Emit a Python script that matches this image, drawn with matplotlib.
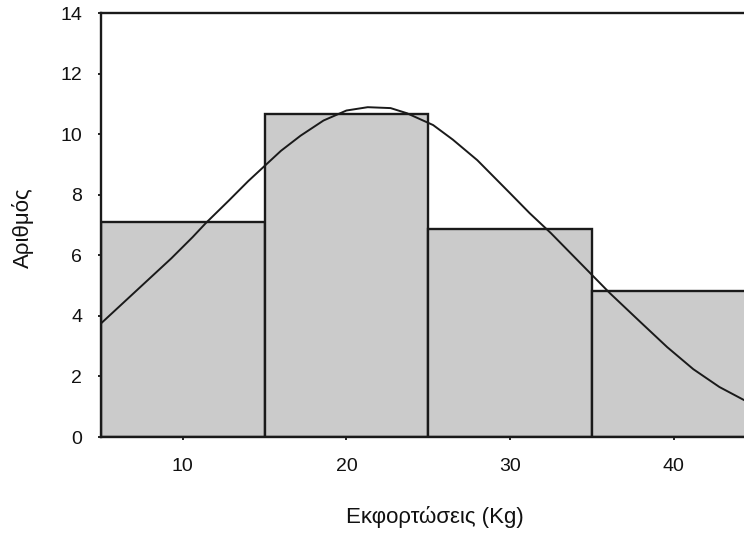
import matplotlib as mpl
import matplotlib.pyplot as plt
import numpy as np

mpl.use('Agg')

# histogram bins (Kg) and counts
bin_edges = [5, 15, 25, 35, 45]
counts = [7.1, 10.65, 6.88, 4.82]

# fitted normal curve
curve_x = [5.0, 6.6, 7.9, 9.3, 10.6, 11.4, 12.8, 14.0, 15.0, 16.0, 17.2, 18.6,
           20.0, 21.3, 22.7, 23.7, 25.3, 26.5, 28.0, 30.0, 31.2, 32.5, 33.7,
           34.9, 36.1, 38.0, 39.6, 41.2, 42.8, 44.3]
curve_y = [3.75, 4.55, 5.2, 5.9, 6.6, 7.06, 7.8, 8.45, 8.95, 9.45, 9.95, 10.45,
           10.78, 10.89, 10.86, 10.69, 10.30, 9.82, 9.14, 8.05, 7.39, 6.73, 6.07,
           5.41, 4.75, 3.78, 2.97, 2.24, 1.65, 1.22]

y_ticks = [0, 2, 4, 6, 8, 10, 12, 14]
x_ticks = [10, 20, 30, 40]


def main():
    plt.rcParams['font.family'] = ['Liberation Sans', 'DejaVu Sans']

    fig = plt.figure(figsize=(7.44, 5.33), dpi=100)
    ax = fig.add_axes([101 / 744, 1 - 437 / 533, 1 - 101 / 744, (437 - 13) / 533])

    lefts = np.array(bin_edges[:-1])
    widths = np.diff(bin_edges)
    ax.bar(lefts, counts, width=widths, align='edge', color='#cbcbcb',
           edgecolor='#1a1a1a', linewidth=1.7, zorder=2)

    ax.plot(curve_x, curve_y, color='#1a1a1a', linewidth=1.4, zorder=3)

    ax.set_xlim(5, 44.3)
    ax.set_ylim(0, 14)
    ax.set_xticks(x_ticks)
    ax.set_yticks(y_ticks)

    ax.spines['right'].set_visible(False)
    for s in ['left', 'bottom', 'top']:
        ax.spines[s].set_linewidth(1.7)
        ax.spines[s].set_color('#1a1a1a')

    ax.tick_params(axis='y', length=2.5, width=1.2, pad=11, labelsize=14,
                   labelcolor='#111111')
    ax.tick_params(axis='x', length=2.5, width=1.2, pad=12.5, labelsize=14,
                   labelcolor='#111111')

    fig.text(435 / 744, 1 - 517 / 533, 'Εκφορτώσεις (Kg)', ha='center',
             va='center', fontsize=16, color='#111111')
    fig.text(23 / 744, 1 - 228 / 533, 'Αριθμός', ha='center', va='center',
             rotation=90, fontsize=16, color='#111111')

    fig.savefig('out.png', dpi=100)


if __name__ == '__main__':
    main()
